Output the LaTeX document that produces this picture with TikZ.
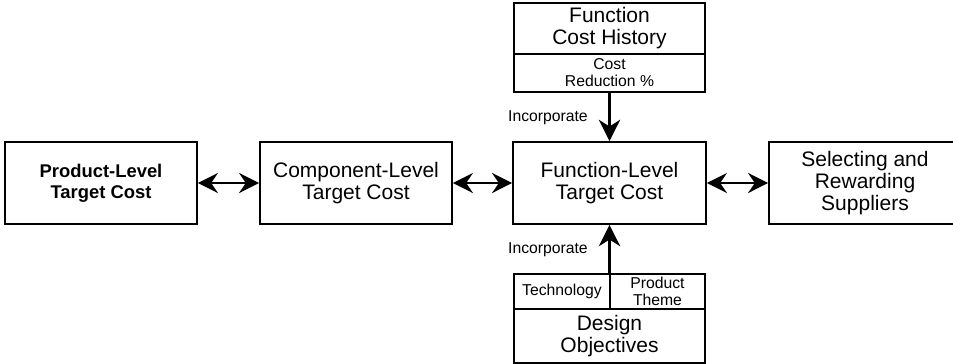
\documentclass[tikz,border=0pt]{standalone}
\usepackage{fontspec}
\setmainfont{Liberation Sans}
\usetikzlibrary{arrows.meta}
\begin{document}
\begin{tikzpicture}[x=0.75pt, y=-0.75pt,
        box/.style={rectangle, draw, line width=1.3pt, align=center, inner sep=0pt,
            font=\fontsize{15.75}{16.5}\selectfont},
        bigbox/.style={box, minimum width=144pt, minimum height=61.5pt},
        small/.style={font=\fontsize{11.8}{12.75}\selectfont},
        arr/.style={line width=2pt, {Stealth[length=15pt, width=15pt, inset=5pt]}-{Stealth[length=15pt, width=15pt, inset=5pt]}},
        uparr/.style={line width=2pt, -{Stealth[length=16pt, width=16pt, inset=5pt]}}]
        \clip (0,0) rectangle (953,364);
        % main row
        \node[bigbox, font=\fontsize{13.8}{15.75}\selectfont\bfseries] (prod) at (101,183) {Product-Level\\Target Cost};
        \node[bigbox] (comp) at (356,183) {Component-Level\\Target Cost};
        \node[bigbox, minimum width=144.75pt] (func) at (609.5,183) {Function-Level\\Target Cost};
        \node[bigbox] (sel) at (865,183) {Selecting and\\Rewarding\\Suppliers};
        % history box
        \node[box, minimum width=143.25pt, minimum height=38.25pt] (hist) at (609.5,28.5) {Function\\Cost History};
        \node[box, small, minimum width=143.25pt, minimum height=28.5pt] (red) at (609.5,73) {Cost\\Reduction \%};
        % objectives box
        \node[box, small, minimum width=72pt, minimum height=26.25pt] (tech) at (562,291.5) {Technology};
        \node[box, small, minimum width=71.25pt, minimum height=26.25pt] (theme) at (657.5,291.5) {Product\\Theme};
        \node[box, minimum width=143.25pt, minimum height=40.5pt] (design) at (609.5,336) {Design\\Objectives};
        % connectors
        \draw[arr] (prod) -- (comp);
        \draw[arr] (comp) -- (func);
        \draw[arr] (func) -- (sel);
        \draw[uparr] (red.south) -- (func.north);
        \draw[uparr] (design.north |- tech.north) -- (func.south);
        \node[small, anchor=east, inner sep=0pt] (inc1) at (588,118) {Incorporate};
        \node[small, anchor=east, inner sep=0pt] (inc2) at (588,250) {Incorporate};
    \end{tikzpicture}
\end{document}
